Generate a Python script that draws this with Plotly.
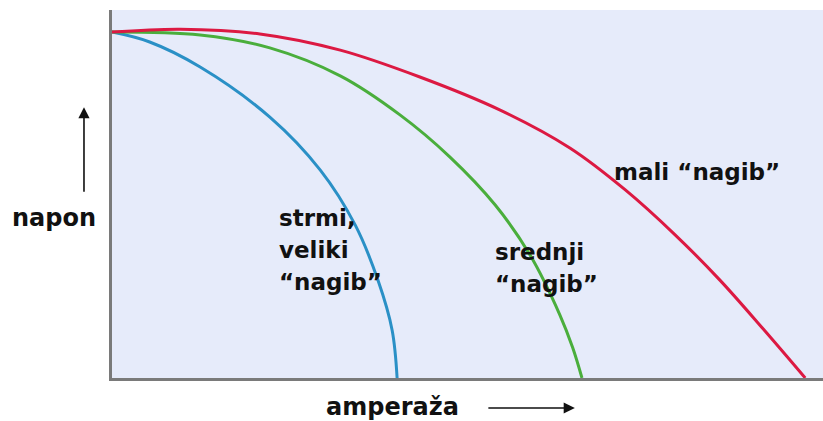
import plotly.graph_objects as go

# Welding power-source characteristics: voltage vs. amperage (relative units)
amp_steep = [0, 5.3, 12.4, 22.2, 29.3, 34.2, 37.4, 39.4, 40.1]
volt_steep = [94.0, 91.3, 84.5, 70.9, 56.5, 41.6, 26.6, 13.0, 0]

amp_mid = [0, 12.4, 22.2, 32.1, 40.5, 47.5, 53.9, 58.8, 63.0, 64.8, 66.1]
volt_mid = [94.0, 93.2, 89.7, 82.1, 71.5, 60.1, 47.0, 33.4, 17.1, 8.2, 0]

amp_flat = [0, 9.6, 20.8, 32.1, 43.3, 54.6, 64.4, 72.2, 79.2, 85.5, 91.6, 97.5]
volt_flat = [94.0, 94.8, 93.5, 89.1, 81.8, 72.8, 62.5, 51.1, 38.9, 26.6, 13.3, 0]

labels = ["strmi,<br>veliki<br>“nagib”", "srednji<br>“nagib”", "mali “nagib”"]
label_pos = [(23.2, 43.5), (53.6, 34.2), (70.3, 56.0)]
line_step = 8.7  # vertical distance between label lines, in voltage units

x_title = "amperaža"
y_title = "napon"

fig = go.Figure()
for xs, ys, col in [(amp_steep, volt_steep, "#2a90c6"),
                    (amp_mid, volt_mid, "#4aae3c"),
                    (amp_flat, volt_flat, "#dc1942")]:
    fig.add_trace(go.Scatter(x=xs, y=ys, mode="lines",
                             line=dict(color=col, width=3, shape="spline", smoothing=1.0),
                             hoverinfo="skip", showlegend=False))

label_font = dict(family="DejaVu Sans", size=23, color="#111111")
title_font = dict(family="DejaVu Sans", size=24, color="#111111")

for txt, (lx, ly) in zip(labels, label_pos):
    for i, part in enumerate(txt.split("<br>")):
        fig.add_annotation(x=lx, y=ly - i * line_step, xref="x", yref="y",
                           text=f"<b>{part}</b>", showarrow=False,
                           xanchor="left", yanchor="middle", font=label_font)

# axis titles with direction arrows
fig.add_annotation(x=-0.0816, y=0.435, xref="paper", yref="paper",
                   text=f"<b>{y_title}</b>", showarrow=False,
                   xanchor="center", yanchor="middle", font=title_font)
fig.add_annotation(x=-0.0394, y=0.736, xref="paper", yref="paper", text="",
                   showarrow=True, ax=0, ay=86, arrowhead=2, arrowsize=1.4,
                   arrowwidth=1.6, arrowcolor="#111111")
fig.add_annotation(x=0.395, y=-0.0788, xref="paper", yref="paper",
                   text=f"<b>{x_title}</b>", showarrow=False,
                   xanchor="center", yanchor="middle", font=title_font)
fig.add_annotation(x=0.651, y=-0.0815, xref="paper", yref="paper", text="",
                   showarrow=True, ax=-88, ay=0, arrowhead=2, arrowsize=1.4,
                   arrowwidth=1.6, arrowcolor="#111111")

fig.update_xaxes(range=[0, 100], showgrid=False, zeroline=False, showticklabels=False,
                 ticks="", showline=True, linecolor="#7a7a7a", linewidth=3)
fig.update_yaxes(range=[0, 100], showgrid=False, zeroline=False, showticklabels=False,
                 ticks="", showline=True, linecolor="#7a7a7a", linewidth=3)

fig.update_layout(width=823, height=421,
                  margin=dict(l=112, r=0, t=10, b=43),
                  plot_bgcolor="#e6ebfa", paper_bgcolor="white")

fig.write_html("out.html")
